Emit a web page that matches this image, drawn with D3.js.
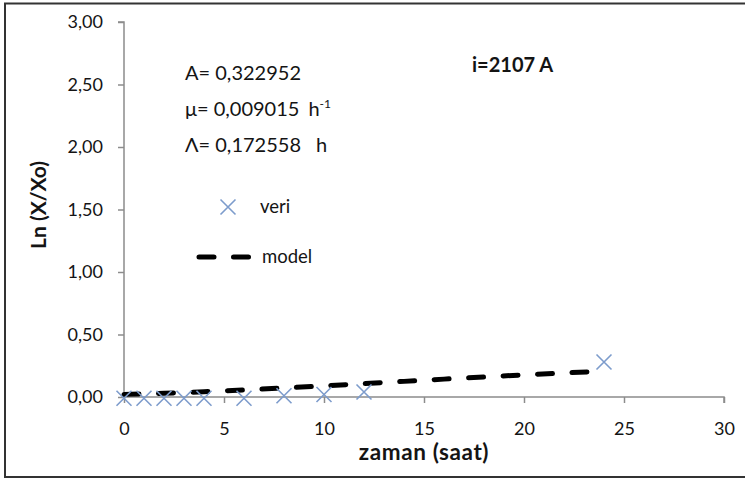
<!DOCTYPE html>
<html>
<head>
<meta charset="utf-8">
<script src="https://cdn.jsdelivr.net/npm/d3@7"></script>
<style>
  html, body { margin: 0; padding: 0; background: #fff; }
  svg { display: block; }
  text { font-family: Lato, "Open Sans", sans-serif; }
</style>
</head>
<body>
<svg id="chart" width="745" height="479"></svg>
<script>
// Measured growth, ln(X/Xo) against time (h)
const veriTime  = [0, 1, 2, 3, 4, 6, 8, 10, 12, 24];
const veriLn    = [-0.01, -0.01, -0.01, -0.01, -0.01, -0.01, 0.01, 0.02, 0.04, 0.28];

// Fitted model curve
const modelTime = [0, 2, 4, 6, 8, 10, 12, 14, 16, 18, 20, 22, 23.3];
const modelLn   = [0.021, 0.030, 0.042, 0.056, 0.072, 0.089, 0.107, 0.125, 0.143, 0.160, 0.177, 0.192, 0.202];

const xTicks = [0, 5, 10, 15, 20, 25, 30];
const yTicks = [0, 0.5, 1, 1.5, 2, 2.5, 3];

const paramLines = [
  { label: "A= 0,322952", unit: "", sup: "" },
  { label: "\u03BC= 0,009015", unit: "h", sup: "-1" },
  { label: "\u039B= 0,172558", unit: "h", sup: "" }
];
const strainLabel = "i=2107 A";
const xTitle = "zaman (saat)";
const yTitle = "Ln (X/Xo)";
const legendItems = ["veri", "model"];

const svg = d3.select("#chart");
const axisColor = "#8c8c8c";
const textColor = "#141414";
const crossColor = "#7d9ccc";

// outer frame
svg.append("rect")
  .attr("x", 5).attr("y", 3.5).attr("width", 760).attr("height", 473.5)
  .attr("fill", "none").attr("stroke", "#333").attr("stroke-width", 2);

const x = d3.scaleLinear().domain([0, 30]).range([124, 724]);
const y = d3.scaleLinear().domain([0, 3]).range([397, 22]);
const fmt = d => d3.format(".2f")(d).replace(".", ",");

// y axis
const yAxis = svg.append("g")
  .attr("transform", `translate(${x(0)},0)`)
  .call(d3.axisLeft(y).tickValues(yTicks).tickSize(6).tickPadding(15).tickFormat(fmt));
yAxis.select(".domain").attr("stroke", axisColor).attr("stroke-width", 1.5).attr("d", `M-6,${y(3)}H0V${y(0)}`);
yAxis.selectAll(".tick line").attr("stroke", axisColor).attr("stroke-width", 1.5);
yAxis.selectAll(".tick text").attr("font-size", 18).attr("fill", textColor)
  .style("font-family", "Lato, sans-serif");

// x axis
const xAxis = svg.append("g")
  .attr("transform", `translate(0,${y(0)})`)
  .call(d3.axisBottom(x).tickValues(xTicks).tickSize(6).tickPadding(19).tickFormat(d => d));
xAxis.select(".domain").attr("stroke", axisColor).attr("stroke-width", 1.5).attr("d", `M${x(0)},0H${x(30)}V6`);
xAxis.selectAll(".tick line").attr("stroke", axisColor).attr("stroke-width", 1.5);
xAxis.selectAll(".tick text").attr("font-size", 18).attr("fill", textColor)
  .style("font-family", "Lato, sans-serif");

// axis titles
svg.append("text")
  .attr("x", 424).attr("y", 460)
  .attr("text-anchor", "middle")
  .attr("font-size", 22.5).attr("font-weight", "bold").attr("fill", textColor)
  .attr("letter-spacing", 0.6)
  .text(xTitle);

svg.append("text")
  .attr("transform", `translate(46,205) rotate(-90)`)
  .attr("text-anchor", "middle")
  .attr("font-size", 21).attr("font-weight", "bold").attr("fill", textColor)
  .text(yTitle);

// model curve (dashed)
const line = d3.line().x((d, i) => x(modelTime[i])).y(d => y(d));
svg.append("path")
  .datum(modelLn)
  .attr("d", line)
  .attr("fill", "none")
  .attr("stroke", "#000")
  .attr("stroke-width", 5)
  .attr("stroke-linecap", "round")
  .attr("stroke-dasharray", "15 19.5");

// measured points as crosses
const crossPath = s => `M${-s},${-s}L${s},${s}M${-s},${s}L${s},${-s}`;
svg.append("g").selectAll("path")
  .data(veriLn)
  .join("path")
  .attr("transform", (d, i) => `translate(${x(veriTime[i])},${y(d)})`)
  .attr("d", crossPath(7.5))
  .attr("stroke", crossColor)
  .attr("stroke-width", 1.6)
  .attr("fill", "none");

// fitted parameters
const params = svg.append("g");
paramLines.forEach((p, i) => {
  const t = params.append("text")
    .attr("x", 185).attr("y", 80 + i * 36)
    .attr("font-size", 20).attr("fill", textColor);
  t.append("tspan").text(p.label);
  if (p.unit) {
    t.append("tspan").attr("dx", p.sup ? 9 : 15).text(p.unit);
  }
  if (p.sup) {
    t.append("tspan").attr("font-size", 12).attr("dy", -8).text(p.sup);
  }
});

svg.append("text")
  .attr("x", 472).attr("y", 72)
  .attr("font-size", 20).attr("font-weight", "bold").attr("fill", textColor)
  .text(strainLabel);

// legend
const legend = svg.append("g");
legend.append("path")
  .attr("transform", `translate(228,207)`)
  .attr("d", crossPath(7.5))
  .attr("stroke", crossColor).attr("stroke-width", 1.6).attr("fill", "none");
legend.append("text")
  .attr("x", 260).attr("y", 213)
  .attr("font-size", 18.5).attr("fill", textColor)
  .text(legendItems[0]);
legend.append("line")
  .attr("x1", 199).attr("x2", 249).attr("y1", 257).attr("y2", 257)
  .attr("stroke", "#000").attr("stroke-width", 5)
  .attr("stroke-linecap", "round")
  .attr("stroke-dasharray", "15 19.5");
legend.append("text")
  .attr("x", 262).attr("y", 263)
  .attr("font-size", 18.5).attr("fill", textColor)
  .text(legendItems[1]);
</script>
</body>
</html>
